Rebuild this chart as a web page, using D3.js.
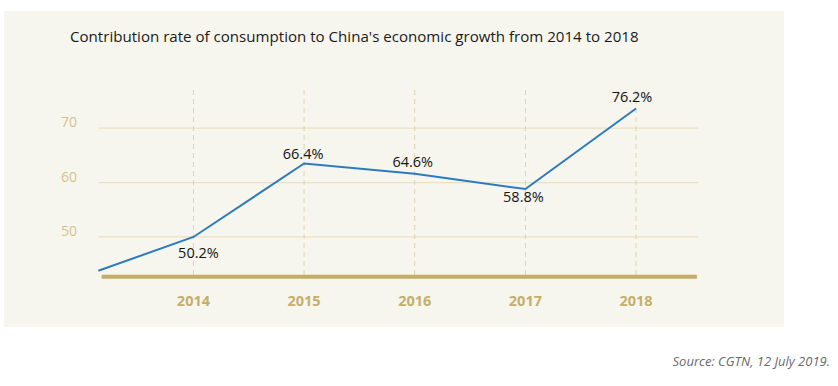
<!DOCTYPE html>
<html>
<head>
<meta charset="utf-8">
<script src="https://cdn.jsdelivr.net/npm/d3@7"></script>
<style>
  body { margin: 0; background: #fff; }
  svg { display: block; font-family: "Open Sans", sans-serif; }
</style>
</head>
<body>
<div id="chart"></div>
<script>
// categories on the x axis
var years = [2014, 2015, 2016, 2017, 2018];
// printed labels next to each point
var rateLabels = ["50.2%", "66.4%", "64.6%", "58.8%", "76.2%"];
// where the line is drawn, read against the y axis (first point sits at the left edge)
var lineYears = [2013.14, 2014, 2015, 2016, 2017, 2018];
var lineValues = [43.8, 50, 63.5, 61.6, 58.8, 73.6];
// y gridlines
var yTicks = [50, 60, 70];

// nudges for the value labels (dx, dy from the point)
var labelNudge = [[5, 21], [-1, -4], [-2, -7], [-2, 13], [-4, -7]];

var W = 838, H = 386;
var svg = d3.select("#chart").append("svg")
    .attr("width", W)
    .attr("height", H);

// cream panel
svg.append("rect")
    .attr("x", 4).attr("y", 11)
    .attr("width", 780).attr("height", 316)
    .attr("fill", "#f7f6ee");

svg.append("text")
    .attr("x", 70).attr("y", 42)
    .attr("font-size", 15.1)
    .attr("fill", "#1a1a1a")
    .text("Contribution rate of consumption to China's economic growth from 2014 to 2018");

var x = d3.scaleLinear().domain([2013.14, 2018.56]).range([98.3, 698]);
var y = d3.scaleLinear().domain([42.7, 77]).range([276.7, 90]);

// horizontal gridlines
svg.append("g").selectAll("line")
  .data(yTicks)
  .enter().append("line")
    .attr("x1", x(2013.14)).attr("x2", x(2018.56))
    .attr("y1", d => y(d)).attr("y2", d => y(d))
    .attr("stroke", "#ebe0bf")
    .attr("stroke-width", 1.2);

// y labels
svg.append("g").selectAll("text")
  .data(yTicks)
  .enter().append("text")
    .attr("x", 61)
    .attr("y", d => y(d) - 1)
    .attr("font-size", 14)
    .attr("fill", "#d4c28e")
    .text(d => d);

// dashed year guides
svg.append("g").selectAll("line")
  .data(years)
  .enter().append("line")
    .attr("x1", d => x(d)).attr("x2", d => x(d))
    .attr("y1", y(77)).attr("y2", y(42.7))
    .attr("stroke", "#ddd3b4")
    .attr("stroke-width", 1)
    .attr("stroke-dasharray", "5,4");

// thick base line
svg.append("line")
    .attr("x1", x(2013.17)).attr("x2", x(2018.55))
    .attr("y1", y(42.7)).attr("y2", y(42.7))
    .attr("stroke", "#c3ad68")
    .attr("stroke-width", 4);

// x labels
svg.append("g").selectAll("text")
  .data(years)
  .enter().append("text")
    .attr("x", d => x(d))
    .attr("y", 306)
    .attr("text-anchor", "middle")
    .attr("font-size", 14.5)
    .attr("font-weight", "bold")
    .attr("fill", "#c4ae6c")
    .text(d => d);

// the line
var pts = lineYears.map((d, i) => [d, lineValues[i]]);
svg.append("path")
    .datum(pts)
    .attr("d", d3.line().x(d => x(d[0])).y(d => y(d[1])))
    .attr("fill", "none")
    .attr("stroke", "#2b7bbf")
    .attr("stroke-width", 2);

// value labels
svg.append("g").selectAll("text")
  .data(years)
  .enter().append("text")
    .attr("x", (d, i) => x(d) + labelNudge[i][0])
    .attr("y", (d, i) => y(lineValues[i + 1]) + labelNudge[i][1])
    .attr("text-anchor", "middle")
    .attr("font-size", 14.5)
    .attr("fill", "#141414")
    .text((d, i) => rateLabels[i]);

svg.append("text")
    .attr("x", 830).attr("y", 366)
    .attr("text-anchor", "end")
    .attr("font-size", 13)
    .attr("font-style", "italic")
    .attr("fill", "#6a6a6a")
    .text("Source: CGTN, 12 July 2019.");
</script>
</body>
</html>
